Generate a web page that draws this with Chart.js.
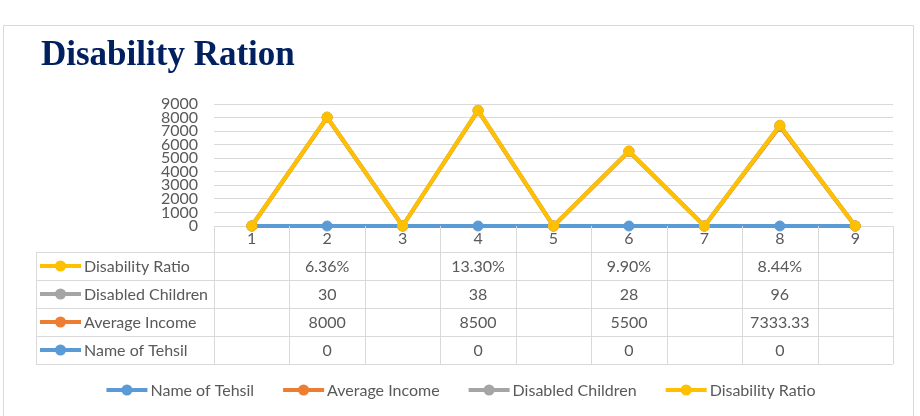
<!DOCTYPE html>
<html>
<head>
<meta charset="utf-8">
<script src="https://cdn.jsdelivr.net/npm/chart.js@4.4.1/dist/chart.umd.min.js"></script>
<style>
  body { margin: 0; background: #fff; }
</style>
</head>
<body>
<canvas id="grafica" width="920" height="416"></canvas>
<script>
const categorias = ['1', '2', '3', '4', '5', '6', '7', '8', '9'];
const nombreTehsil = [null, 0, null, 0, null, 0, null, 0, null];
const ingresoPromedio = [null, 8000, null, 8500, null, 5500, null, 7333.33, null];
const ninosDiscapacitados = [null, 30, null, 38, null, 28, null, 96, null];
const razonDiscapacidad = [null, 0.0636, null, 0.133, null, 0.099, null, 0.0844, null];
const ticksY = [0, 1000, 2000, 3000, 4000, 5000, 6000, 7000, 8000, 9000];

const titulo = 'Disability Ration';
const gris = '#595959';
const lineaTabla = '#d9d9d9';

const series = [
    { nombre: 'Name of Tehsil', datos: nombreTehsil, color: '#5b9bd5', fmt: v => String(v) },
    { nombre: 'Average Income', datos: ingresoPromedio, color: '#ed7d31', fmt: v => String(v) },
    { nombre: 'Disabled Children', datos: ninosDiscapacitados, color: '#a5a5a5', fmt: v => String(v) },
    { nombre: 'Disability Ratio', datos: razonDiscapacidad, color: '#ffc000', fmt: v => (v * 100).toFixed(2) + '%' }
];

// linea apilada como en Excel: las celdas vacias cuentan como cero
let acumulado = categorias.map(() => 0);
const datasets = series.map((s, i) => {
    acumulado = acumulado.map((b, j) => b + (s.datos[j] ?? 0));
    return {
        label: s.nombre,
        data: acumulado.slice(),
        borderColor: s.color,
        backgroundColor: s.color,
        pointBackgroundColor: s.color,
        pointBorderColor: s.color,
        borderWidth: 4,
        pointRadius: 5,
        pointBorderWidth: 1,
        tension: 0,
        clip: false,
        order: series.length - i
    };
});

function marcador(ctx, x, y, color) {
    ctx.strokeStyle = color;
    ctx.lineWidth = 4;
    ctx.beginPath();
    ctx.moveTo(x, y);
    ctx.lineTo(x + 41, y);
    ctx.stroke();
    ctx.fillStyle = color;
    ctx.beginPath();
    ctx.arc(x + 20.5, y, 5.5, 0, Math.PI * 2);
    ctx.fill();
}

const tablaPlugin = {
    id: 'tabla',
    beforeDraw(chart) {
        const ctx = chart.ctx;
        ctx.save();
        ctx.fillStyle = '#fff';
        ctx.fillRect(0, 0, chart.width, chart.height);
        ctx.strokeStyle = lineaTabla;
        ctx.lineWidth = 1;
        ctx.strokeRect(3.5, 25.5, 910, 420);
        ctx.fillStyle = '#002060';
        ctx.font = 'bold 35px "Liberation Serif"';
        ctx.textBaseline = 'alphabetic';
        ctx.fillText(titulo, 41, 65);
        ctx.restore();
    },
    afterDraw(chart) {
        const ctx = chart.ctx;
        const area = chart.chartArea;
        const ancho = (area.right - area.left) / categorias.length;
        const arriba = area.bottom;
        const filaTop = arriba + 26;
        const alto = 28;
        const izq = 36;
        const filas = series.slice().reverse();
        const abajo = filaTop + filas.length * alto;
        const px = v => Math.round(v) + 0.5;

        ctx.save();
        ctx.strokeStyle = lineaTabla;
        ctx.lineWidth = 1;
        ctx.beginPath();
        for (let i = 0; i <= filas.length; i++) {
            const y = px(filaTop + i * alto);
            ctx.moveTo(izq, y);
            ctx.lineTo(area.right, y);
        }
        for (let k = 0; k <= categorias.length; k++) {
            const x = px(area.left + k * ancho);
            ctx.moveTo(x, arriba);
            ctx.lineTo(x, abajo);
        }
        ctx.moveTo(px(izq), filaTop);
        ctx.lineTo(px(izq), abajo);
        ctx.stroke();

        ctx.font = '16px Lato';
        ctx.textBaseline = 'middle';
        filas.forEach((s, i) => {
            const yc = filaTop + i * alto + alto / 2;
            marcador(ctx, 40, yc, s.color);
            ctx.fillStyle = gris;
            ctx.textAlign = 'left';
            ctx.fillText(s.nombre, 84, yc + 1);
            ctx.textAlign = 'center';
            s.datos.forEach((v, j) => {
                if (v === null) return;
                ctx.fillText(s.fmt(v), area.left + (j + 0.5) * ancho, yc + 1);
            });
        });

        // leyenda inferior
        const hueco = 29;
        const anchos = series.map(s => 44 + ctx.measureText(s.nombre).width);
        const total = anchos.reduce((a, b) => a + b, 0) + hueco * (series.length - 1);
        let x = chart.width / 2 - total / 2 + 1;
        const yl = 390;
        ctx.textAlign = 'left';
        series.forEach((s, i) => {
            marcador(ctx, x, yl, s.color);
            ctx.fillStyle = gris;
            ctx.fillText(s.nombre, x + 44, yl + 1);
            x += anchos[i] + hueco;
        });
        ctx.restore();
    }
};

const ctx = document.getElementById('grafica');
new Chart(ctx, {
    type: 'line',
    data: {
        labels: categorias,
        datasets: datasets
    },
    options: {
        responsive: false,
        animation: false,
        layout: {
            padding: { top: 104, left: 140, right: 27, bottom: 164 }
        },
        plugins: {
            legend: { display: false },
            title: { display: false },
            tooltip: { enabled: false }
        },
        scales: {
            x: {
                offset: true,
                grid: { display: false, drawTicks: false },
                border: { display: true, color: lineaTabla },
                ticks: { color: gris, font: { family: 'Lato', size: 16 }, padding: 3 },
                afterFit(scale) { scale.height = 26; }
            },
            y: {
                min: ticksY[0],
                max: ticksY[ticksY.length - 1],
                afterBuildTicks(scale) { scale.ticks = ticksY.map(v => ({ value: v })); },
                grid: { color: lineaTabla, drawTicks: false },
                border: { display: false },
                ticks: {
                    autoSkip: false,
                    color: gris,
                    padding: 16,
                    font: { family: 'Lato', size: 16 },
                    callback: v => String(v)
                },
                afterFit(scale) { scale.width = 74; }
            }
        }
    },
    plugins: [tablaPlugin]
});
</script>
</body>
</html>
